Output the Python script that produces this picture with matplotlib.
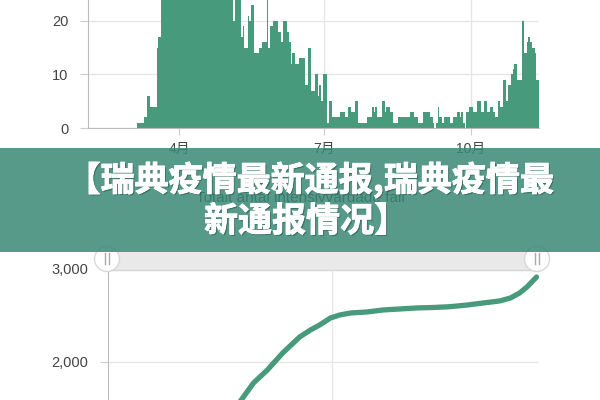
import numpy as np
import matplotlib
matplotlib.use('Agg')
import matplotlib.pyplot as plt
import matplotlib.patheffects as pe
from matplotlib.patches import Rectangle, Circle

plt.rcParams['font.family'] = ['Liberation Sans', 'Noto Sans CJK SC']

# 每日新增重症病例 (day-of-year, 2020; first bar = Mar 6)
first_day = 65
daily_icu = [
    1, 1, 1, 1, 2, 2, 6, 6, 4, 4, 4, 4, 15, 17, 17,
    25, 25, 28, 31, 33, 30, 36, 38, 35, 40, 42, 39, 37, 41, 44, 40, 38, 43,
    39, 36, 41, 37, 40, 35, 38, 36, 33, 37, 34, 31, 35, 32, 30, 34, 29, 31,
    28, 33, 27, 30, 26, 29, 27, 28, 26,
    20, 27, 29, 26, 28, 17, 19, 15, 15, 21, 20, 23, 23, 14, 14, 14, 15, 15,
    16, 16, 16, 26, 15, 19, 19, 20, 20, 20, 18, 18, 16, 20, 20, 20, 18, 16,
    12, 14, 14, 12, 12, 13, 13, 13, 13, 8, 8, 15, 15, 7, 7, 10, 10, 6, 8, 5,
    10, 10, 10, 1, 5, 5, 2, 2, 2, 2, 2, 3, 3, 3, 2, 2, 4, 4, 3, 3, 5, 5,
    1, 1, 1, 1, 1, 1, 2, 2, 2, 4, 3, 4, 2, 2, 2, 5, 5, 3, 4, 4, 3, 3,
    1, 1, 1, 2, 2, 2, 2, 2, 2, 2, 2, 3, 3, 2, 2, 2, 1, 1, 1, 3, 3, 3, 3,
    2, 2, 1, 0, 1, 4, 2, 2, 1, 2, 2, 2, 2, 1, 1, 2, 2, 3, 3, 2, 3, 1, 0,
    3, 3, 4, 4, 3, 3, 3, 5, 5, 3, 3, 5, 5, 3, 3, 4, 4, 3, 2, 2, 5, 4, 4,
    9, 9, 5, 8, 8, 10, 11, 12, 12, 9, 9, 9, 20, 14, 14, 16, 17, 16, 15, 15,
    14, 9, 9,
]
month_days = [91, 182, 274]
month_labels = ['4月', '7月', '10月']

# 累计重症病例
line_days = [119, 123, 131, 140, 150, 161, 168, 174, 181, 187, 194, 205, 215,
             226, 237, 248, 259, 270, 280, 291, 298, 304, 309, 315]
line_vals = [1500, 1591, 1774, 1914, 2097, 2269, 2344, 2398, 2473, 2505, 2527,
             2538, 2559, 2570, 2581, 2586, 2595, 2613, 2634, 2656, 2688, 2742,
             2810, 2914]
line_yticks = [2000, 3000]
line_ylabels = ['2,000', '3,000']

title_cn = ['【瑞典疫情最新通报,瑞典疫情最', '新通报情况】']
chart_title = 'Totalt antal intensivvårdade fall'

GREEN = '#489a7c'
GRID = '#e6e6e6'
W, H = 600, 400


def px_rect(l, t, r, b):
    return [l / W, 1 - b / H, (r - l) / W, (b - t) / H]


fig = plt.figure(figsize=(6, 4), dpi=100)

# 上图: 每日柱状图 (一天一根柱, 画成连续台阶避免缝隙)
ax1 = fig.add_axes(px_rect(88, 0, 539, 128))
edges = np.arange(first_day, first_day + len(daily_icu) + 1)
ax1.stairs(daily_icu, edges, fill=True, color=GREEN, baseline=0)
ax1.set_xlim(34, 316.6)
ax1.set_ylim(0, 23.9)
ax1.set_yticks([0, 10, 20])
ax1.set_xticks(month_days, month_labels)
ax1.grid(color=GRID, lw=1)
ax1.set_axisbelow(True)
for s in ['top', 'right']:
    ax1.spines[s].set_visible(False)
for s in ['left', 'bottom']:
    ax1.spines[s].set_color('#bbbbbb')
ax1.tick_params(axis='y', length=6, color='#cccccc', pad=8,
                labelsize=10.5, labelcolor='#444444')
ax1.tick_params(axis='x', length=5, color='#cccccc', pad=5,
                labelsize=10, labelcolor='#444444')

# 下图: 累计折线
ax2 = fig.add_axes(px_rect(108, 269, 539, 400))
ax2.plot(line_days, line_vals, color=GREEN, lw=3.8, solid_capstyle='round')
ax2.set_xlim(36.4, 316.6)
ax2.set_ylim(1591, 3000)
ax2.set_yticks(line_yticks, line_ylabels)
ax2.set_xticks([182], [''])
ax2.grid(color=GRID, lw=1)
ax2.set_axisbelow(True)
for s in ['top', 'right', 'bottom']:
    ax2.spines[s].set_visible(False)
ax2.spines['left'].set_color('#bbbbbb')
ax2.tick_params(axis='y', length=6, color='#cccccc', pad=8,
                labelsize=10.5, labelcolor='#444444')
ax2.tick_params(axis='x', length=0)

# 叠加层: 滚动条, 横幅, 标题
ov = fig.add_axes([0, 0, 1, 1], zorder=10)
ov.set_xlim(0, W)
ov.set_ylim(H, 0)
ov.axis('off')

ov.add_patch(Rectangle((108, 252), 429, 18, fc='#e9e9e9', ec='none', zorder=1))
ov.plot([108, 537], [270, 270], color='#d6d6d6', lw=1, zorder=1)
for cx, cy in [(107, 259), (537, 259)]:
    ov.add_patch(Circle((cx, cy), 12.5, fc='white', ec='#d8d8d8', lw=1, zorder=2))
    for dx in (-2.2, 2.2):
        ov.plot([cx + dx, cx + dx], [cy - 6, cy + 5], color='#aaaaaa', lw=1, zorder=3)

ov.text(300, 198, chart_title, ha='center', va='center', fontsize=11,
        color='#333333', zorder=4)
ov.add_patch(Rectangle((0, 148), W, 104, fc='#3a8876', alpha=0.85, ec='none', zorder=5))

shadow = [pe.withSimplePatchShadow(offset=(1, -1), shadow_rgbFace='#1e4a40', alpha=0.5),
          pe.withStroke(linewidth=0.6, foreground='white')]
for (tx, ty), line in zip([(310, 180), (306, 221)], title_cn):
    ov.text(tx, ty, line, ha='center', va='center', fontsize=24.5,
            fontweight='heavy', color='white', family=['Noto Sans CJK SC'],
            path_effects=shadow, zorder=6)

fig.savefig('out.png', dpi=100)
